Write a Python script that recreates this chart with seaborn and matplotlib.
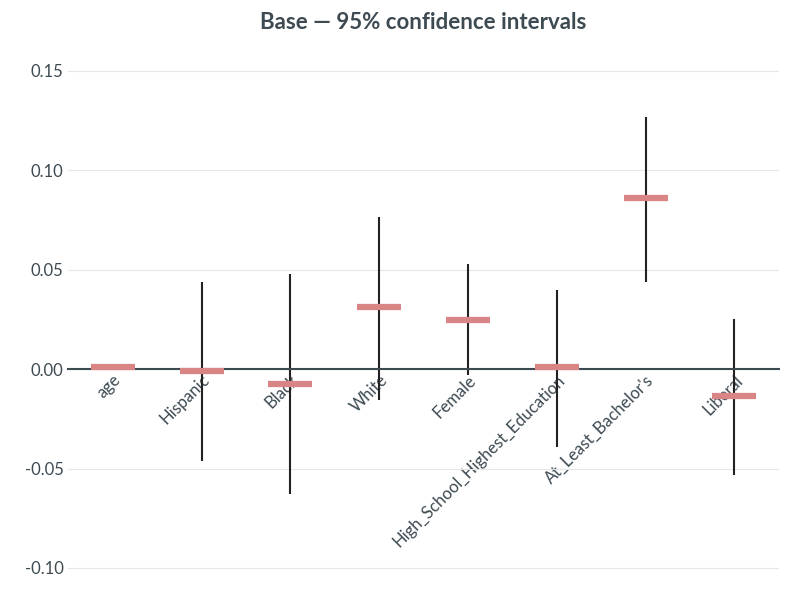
import matplotlib
matplotlib.use("Agg")
import matplotlib.pyplot as plt
import seaborn as sns
import pandas as pd

variables = ["age", "Hispanic", "Black", "White", "Female",
             "High_School_Highest_Education", "At_Least_Bachelor's", "Liberal"]
estimates = [0.0012, -0.001, -0.0075, 0.031, 0.0247, 0.001, 0.086, -0.0135]
lower = [0.0008, -0.046, -0.063, -0.0155, -0.003, -0.039, 0.044, -0.053]
upper = [0.0016, 0.044, 0.048, 0.0765, 0.053, 0.040, 0.127, 0.025]

df = pd.DataFrame({"var": variables, "est": estimates, "lo": lower, "hi": upper})

sns.set_theme(style="whitegrid")
plt.rcParams["font.family"] = ["Lato", "DejaVu Sans"]
txt = "#3d4a52"

fig, ax = plt.subplots(figsize=(8.03, 5.92), dpi=100)
fig.subplots_adjust(left=0.085, right=0.97, top=0.914, bottom=0.007)
x = list(range(len(df)))
ax.vlines(x, df["lo"], df["hi"], color="#222222", lw=1.5, zorder=2)
sns.scatterplot(x=x, y=df["est"], marker="_", s=1000, linewidth=4.5,
                color="#d98585", ax=ax, zorder=3)
ax.set_xlim(-0.5, 7.5)
ax.set_ylim(-0.11, 0.16)
ax.set_yticks([-0.10, -0.05, 0.0, 0.05, 0.10, 0.15])
ax.set_yticklabels(["-0.10", "-0.05", "0.00", "0.05", "0.10", "0.15"], color=txt, fontsize=12)
ax.grid(axis="x", visible=False)
ax.grid(axis="y", color="#e6e6e6", lw=0.8)
for s in ["top", "right", "left"]:
    ax.spines[s].set_visible(False)
ax.spines["bottom"].set_position(("data", 0))
ax.spines["bottom"].set_color("#3d4a52")
ax.spines["bottom"].set_linewidth(1.5)
ax.set_xlabel("")
ax.set_ylabel("")
ax.set_xticks(x)
ax.set_xticklabels(variables)
ax.tick_params(axis="x", pad=2, length=0)
ax.tick_params(axis="y", length=0)
for lab in ax.get_xticklabels():
    lab.set_rotation(45)
    lab.set_ha("right")
    lab.set_rotation_mode("anchor")
    lab.set_color(txt)
    lab.set_fontsize(12)
ax.set_title("Base — 95% confidence intervals", fontsize=16, fontweight="bold",
             color=txt, pad=16)
fig.savefig("out.png")
